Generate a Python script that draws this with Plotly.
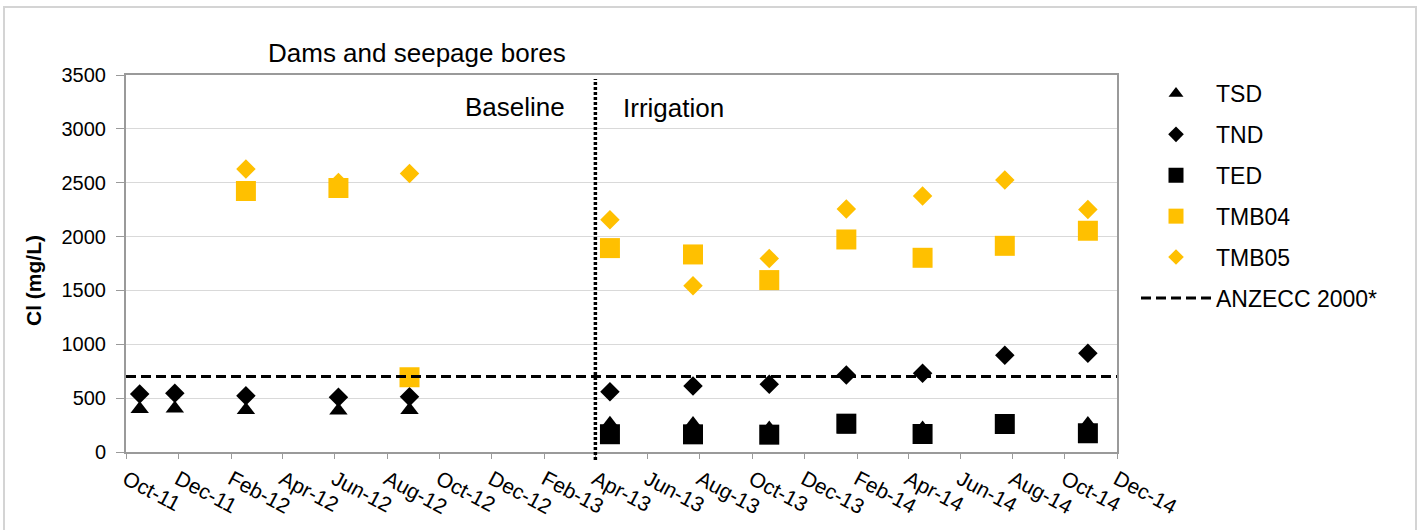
import plotly.graph_objects as go

# Sampling dates (baseline then irrigation period)
sample_dates = [
    "2011-10-17", "2011-11-27", "2012-02-18", "2012-06-05", "2012-08-27",
    "2013-04-18", "2013-07-24", "2013-10-21", "2014-01-19", "2014-04-18",
    "2014-07-23", "2014-10-28",
]

# Chloride concentrations, mg/L
tsd = [400, 405, 390, 385, 390, 262, 260, 218, 209, 218, 240, 260]
tnd = [539, 545, 523, 508, 514, 560, 613, 629, 716, 731, 898, 917]
ted = [None, None, None, None, None, 165, 164, 161, 263, 167, 260, 174]
tmb04 = [None, None, 2423, 2451, 694, 1893, 1834, 1596, 1973, 1803, 1914, 2054]
tmb05 = [None, None, 2627, 2503, 2586, 2156, 1543, 1797, 2255, 2376, 2525, 2252]

anzecc_value = 700
irrigation_start = "2013-04-01"

# Axis ticks
x_tick_dates = [
    "2011-10-01", "2011-12-01", "2012-02-01", "2012-04-01", "2012-06-01",
    "2012-08-01", "2012-10-01", "2012-12-01", "2013-02-01", "2013-04-01",
    "2013-06-01", "2013-08-01", "2013-10-01", "2013-12-01", "2014-02-01",
    "2014-04-01", "2014-06-01", "2014-08-01", "2014-10-01", "2014-12-01",
]
x_tick_labels = [
    "Oct-11", "Dec-11", "Feb-12", "Apr-12", "Jun-12", "Aug-12", "Oct-12",
    "Dec-12", "Feb-13", "Apr-13", "Jun-13", "Aug-13", "Oct-13", "Dec-13",
    "Feb-14", "Apr-14", "Jun-14", "Aug-14", "Oct-14", "Dec-14",
]
y_ticks = [0, 500, 1000, 1500, 2000, 2500, 3000, 3500]

FONT = "Liberation Sans, Arial, sans-serif"
GOLD = "#FFC000"
BLACK = "#000000"

# Plot-area geometry in pixels (figure is 1423 x 530)
W, H = 1423, 530
PL, PR, PT, PB = 126, 1117, 75, 452


def px_x(p):
    return (p - PL) / (PR - PL)


def px_y(p):
    return (PB - p) / (PB - PT)


fig = go.Figure()

# (name, values, symbol, colour, plot size, legend size)
series = [
    ("TSD", tsd, "triangle-up", BLACK, 16, 13),
    ("TND", tnd, "diamond", BLACK, 15, 12),
    ("TED", ted, "square", BLACK, 20, 15),
    ("TMB04", tmb04, "square", GOLD, 20, 15),
    ("TMB05", tmb05, "diamond", GOLD, 15, 12),
]
for name, vals, sym, col, size, lsize in series:
    fig.add_trace(go.Scatter(
        x=sample_dates, y=vals, name=name, mode="markers",
        legendgroup=name, showlegend=False,
        marker=dict(symbol=sym, color=col, size=size, line=dict(width=0)),
    ))
    # legend entry with a smaller key symbol
    fig.add_trace(go.Scatter(
        x=[None], y=[None], name=name, mode="markers",
        legendgroup=name, showlegend=True,
        marker=dict(symbol=sym, color=col, size=lsize, line=dict(width=0)),
    ))

fig.add_trace(go.Scatter(
    x=[x_tick_dates[0], x_tick_dates[-1]], y=[anzecc_value, anzecc_value],
    name="ANZECC 2000*", mode="lines", legendgroup="anzecc",
    line=dict(color=BLACK, width=3, dash="10px,5px"),
))

fig.update_layout(
    width=W, height=H,
    margin=dict(l=PL, r=W - PR, t=PT, b=H - PB),
    paper_bgcolor="white", plot_bgcolor="white",
    font=dict(family=FONT, color="black", size=20),
    showlegend=True,
    legend=dict(
        x=px_x(1136), y=px_y(72), xanchor="left", yanchor="top",
        xref="paper", yref="paper",
        font=dict(size=23, family=FONT),
        itemwidth=70, itemsizing="trace", tracegroupgap=8,
        bgcolor="rgba(0,0,0,0)",
    ),
    xaxis=dict(
        type="date", range=[x_tick_dates[0], x_tick_dates[-1]],
        tickmode="array", tickvals=x_tick_dates, ticktext=x_tick_labels,
        tickangle=28, tickfont=dict(size=21),
        showgrid=False, zeroline=False,
        showline=True, linecolor="#9A9A9A", linewidth=2, mirror=True,
        ticks="outside", ticklen=5, tickcolor="#9A9A9A", tickwidth=1,
    ),
    yaxis=dict(
        range=[0, 3500], tickmode="array", tickvals=y_ticks,
        tickfont=dict(size=20), ticklabelstandoff=6,
        showgrid=True, gridcolor="#D9D9D9", gridwidth=1, zeroline=False,
        showline=True, linecolor="#9A9A9A", linewidth=2, mirror=True,
        ticks="outside", ticklen=8, tickcolor="#9A9A9A", tickwidth=1,
    ),
)

# Boundary between baseline and irrigation periods
fig.add_shape(
    type="line", xref="x", yref="paper",
    x0=irrigation_start, x1=irrigation_start, y0=px_y(460), y1=px_y(79),
    line=dict(color=BLACK, width=3.5, dash="3px,2px"),
)

# Outer chart frame
fig.add_shape(
    type="rect", xref="paper", yref="paper",
    x0=px_x(4), x1=px_x(1416), y0=px_y(540), y1=px_y(7),
    line=dict(color="#D4D4D4", width=2), fillcolor="rgba(0,0,0,0)",
    layer="below",
)

annotations = [
    dict(text="Dams and seepage bores", x=px_x(417), y=px_y(53),
         xanchor="center", yanchor="middle", font=dict(size=26)),
    dict(text="Baseline", x=px_x(567), y=px_y(107),
         xanchor="right", yanchor="middle", font=dict(size=26)),
    dict(text="Irrigation", x=px_x(621), y=px_y(108),
         xanchor="left", yanchor="middle", font=dict(size=26)),
    dict(text="<b>Cl (mg/L)</b>", x=px_x(33), y=px_y(281), textangle=-90,
         xanchor="center", yanchor="middle", font=dict(size=21)),
]
for a in annotations:
    fig.add_annotation(xref="paper", yref="paper", showarrow=False,
                       font_family=FONT, font_color="black", **a)

fig.write_html("out.html")
